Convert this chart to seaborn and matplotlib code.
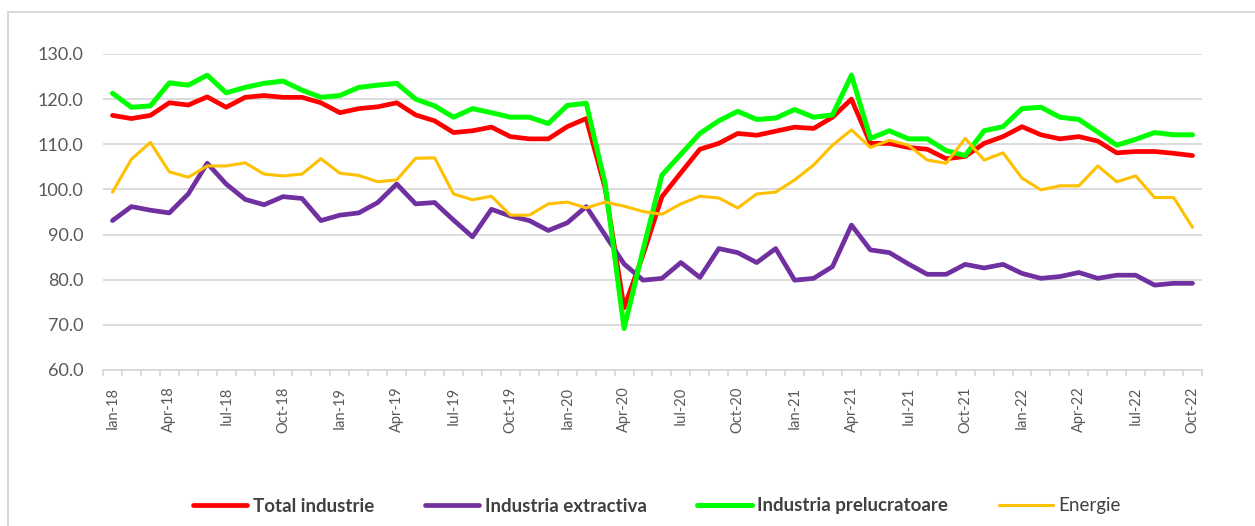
import numpy as np
import pandas as pd
import matplotlib
matplotlib.use("Agg")
import matplotlib.pyplot as plt
import matplotlib.patches as mpatches
import seaborn as sns

# Date lunare ian-2018 .. oct-2022
luni = ["Ian", "Feb", "Mar", "Apr", "Mai", "Iun", "Iul", "Aug", "Sep", "Oct", "Noi", "Dec"]
etichete = [f"{luni[i % 12]}-{18 + i // 12}" for i in range(58)]

total_industrie = [
    116.4, 115.7, 116.4, 119.2, 118.7, 120.5, 118.2, 120.4, 120.8, 120.4, 120.4, 119.2,
    117.0, 117.9, 118.3, 119.2, 116.5, 115.2, 112.6, 113.0, 113.8, 111.7, 111.2, 111.2,
    113.9, 115.7, 100.3, 73.8, 85.5, 98.4, 103.7, 108.9, 110.2, 112.4, 112.0, 112.9,
    113.8, 113.5, 116.0, 120.0, 110.2, 110.2, 109.3, 108.9, 106.8, 107.3, 110.2, 111.7,
    113.9, 112.1, 111.2, 111.7, 110.7, 108.1, 108.4, 108.4, 108.0, 107.5,
]
industria_extractiva = [
    93.1, 96.2, 95.4, 94.8, 99.0, 105.8, 101.2, 97.8, 96.6, 98.4, 98.0, 93.1,
    94.3, 94.8, 97.1, 101.2, 96.8, 97.1, 93.2, 89.5, 95.6, 94.1, 93.1, 90.9,
    92.6, 96.2, 89.9, 83.5, 79.9, 80.3, 83.8, 80.5, 86.9, 86.0, 83.8, 86.9,
    79.9, 80.3, 82.9, 92.1, 86.6, 86.0, 83.5, 81.2, 81.2, 83.4, 82.6, 83.4,
    81.4, 80.3, 80.7, 81.6, 80.3, 81.0, 81.0, 78.8, 79.2, 79.2,
]
industria_prelucratoare = [
    121.3, 118.2, 118.5, 123.6, 123.1, 125.3, 121.4, 122.6, 123.5, 124.0, 122.0, 120.4,
    120.8, 122.6, 123.1, 123.5, 120.0, 118.5, 116.0, 117.9, 117.0, 116.0, 116.0, 114.6,
    118.6, 119.1, 101.3, 69.2, 86.6, 103.2, 107.8, 112.4, 115.2, 117.3, 115.5, 115.8,
    117.7, 116.0, 116.5, 125.3, 111.3, 113.0, 111.2, 111.2, 108.6, 107.5, 113.0, 113.9,
    117.9, 118.2, 116.0, 115.5, 112.7, 109.8, 111.1, 112.6, 112.1, 112.1,
]
energie = [
    99.4, 106.7, 110.4, 103.9, 102.7, 105.2, 105.2, 105.9, 103.4, 103.0, 103.4, 106.8,
    103.6, 103.1, 101.7, 102.1, 106.9, 107.0, 99.0, 97.7, 98.5, 94.3, 94.3, 96.8,
    97.2, 95.9, 97.2, 96.3, 95.1, 94.5, 96.8, 98.5, 98.1, 95.9, 99.0, 99.4,
    102.1, 105.4, 109.8, 113.2, 109.3, 110.9, 109.8, 106.5, 105.8, 111.3, 106.5, 108.1,
    102.5, 99.9, 100.8, 100.8, 105.2, 101.7, 103.0, 98.2, 98.2, 91.6,
]

serii = [
    ("Total industrie", total_industrie, "#FF0000", 3.4),
    ("Industria extractiva", industria_extractiva, "#7030A0", 3.4),
    ("Industria prelucratoare", industria_prelucratoare, "#00FF00", 3.6),
    ("Energie", energie, "#FFC000", 2.2),
]

sns.set_theme(style="white")
plt.rcParams['font.family'] = ['Lato', 'DejaVu Sans']

fig = plt.figure(figsize=(12.55, 5.26), dpi=100)
ax = fig.add_axes([103 / 1255, 1 - 370 / 526, 1099 / 1255, 316 / 526])

x = np.arange(len(etichete))
for nume, valori, culoare, lw in serii:
    df = pd.DataFrame({"luna": x, "valoare": valori})
    sns.lineplot(data=df, x="luna", y="valoare", color=culoare, linewidth=lw,
                 label=nume, ax=ax, legend=False, solid_capstyle="round",
                 solid_joinstyle="round")

ax.set_ylim(60, 130)
ax.set_yticks(np.arange(60, 131, 10))
ax.set_yticklabels([f"{v:.1f}" for v in np.arange(60, 131, 10)])
ax.set_xlim(-0.5, len(etichete) - 0.5)
ax.set_xticks(x[::3])
ax.set_xticklabels(etichete[::3], rotation=90)
ax.set_xticks(np.arange(-0.5, len(etichete), 1), minor=True)
ax.set_xlabel("")
ax.set_ylabel("")

ax.grid(axis="y", color="#D9D9D9", linewidth=1.3)
ax.set_axisbelow(True)
for s in ["left", "right", "top"]:
    ax.spines[s].set_visible(False)
ax.spines["bottom"].set_color("#D9D9D9")
ax.spines["bottom"].set_linewidth(1.3)
ax.tick_params(axis="y", length=0, pad=14, labelsize=13, labelcolor="#595959")
ax.tick_params(axis="x", which="major", length=0, pad=12, labelsize=10.5, labelcolor="#595959")
ax.tick_params(axis="x", which="minor", bottom=True, length=4, width=1.3, color="#D9D9D9")

# chenarul graficului
fig.patches.append(mpatches.Rectangle((8 / 1255, -0.1), 1.1, 1 - 12 / 526 + 0.1,
                                      transform=fig.transFigure, fill=False,
                                      edgecolor="#D9D9D9", linewidth=1.5))

handles, labels = ax.get_legend_handles_labels()
leg = fig.legend(handles, labels, loc="center", ncol=4, frameon=False,
                 bbox_to_anchor=(657 / 1255, 1 - 506 / 526), fontsize=13.5,
                 handlelength=2.9, handletextpad=0.3, columnspacing=2.7)
for t in leg.get_texts():
    t.set_color("#404040")
    if t.get_text() != "Energie":
        t.set_fontweight("bold")
for h in leg.get_lines():
    h.set_solid_capstyle("round")

fig.savefig("out.png", dpi=100)
